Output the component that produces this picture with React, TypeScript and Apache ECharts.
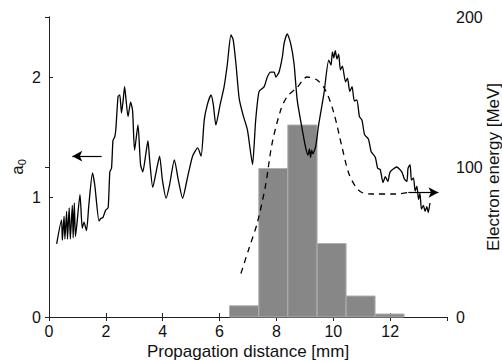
import React, { useEffect, useRef } from "react";
import * as echarts from "echarts";

// a0 (left axis) vs propagation distance [mm]
const a0X = [
  0.27, 0.44, 0.47, 0.53, 0.56, 0.62, 0.65, 0.71, 0.75, 0.82, 0.85, 0.89, 0.93, 0.98,
  1.09, 1.17, 1.23, 1.32, 1.40, 1.53, 1.61, 1.76, 1.82, 1.90, 1.99, 2.08, 2.14, 2.20,
  2.25, 2.31, 2.35, 2.43, 2.49, 2.55, 2.61, 2.66, 2.71, 2.78, 2.87, 2.94, 3.01, 3.13,
  3.22, 3.30, 3.40, 3.48, 3.54, 3.65, 3.77, 3.89, 3.99, 4.12, 4.24, 4.41, 4.55, 4.70,
  4.87, 5.05, 5.23, 5.35, 5.46, 5.57, 5.70, 5.78, 5.87, 6.02, 6.16, 6.27, 6.40, 6.48,
  6.58, 6.69, 6.83, 6.98, 7.08, 7.16, 7.27, 7.39, 7.57, 7.68, 7.80, 7.92, 7.98, 8.09,
  8.21, 8.27, 8.38, 8.50, 8.62, 8.73, 8.91, 9.03, 9.11, 9.16, 9.20, 9.24, 9.28, 9.38,
  9.49, 9.67, 9.84, 9.92, 9.97, 10.02, 10.07, 10.13, 10.19, 10.25, 10.32, 10.43, 10.50,
  10.58, 10.66, 10.74, 10.83, 10.92, 11.01, 11.10, 11.24, 11.33, 11.48, 11.56, 11.65,
  11.75, 11.83, 11.92, 12.00, 12.23, 12.41, 12.50, 12.59, 12.63, 12.70, 12.75, 12.82,
  12.88, 12.94, 13.00, 13.05, 13.10, 13.17, 13.23, 13.29, 13.34, 13.40,
];
const a0Y = [
  0.61, 0.81, 0.64, 0.84, 0.65, 0.88, 0.65, 0.91, 0.65, 0.93, 0.66, 0.95, 0.67, 0.77,
  1.02, 0.74, 0.79, 0.72, 0.93, 1.20, 1.10, 0.80, 0.82, 0.83, 0.89, 0.91, 1.21, 1.24,
  1.47, 1.50, 1.56, 1.84, 1.85, 1.70, 1.81, 1.92, 1.81, 1.67, 1.79, 1.72, 1.39, 1.60,
  1.27, 1.21, 1.35, 1.47, 1.31, 1.08, 1.21, 1.34, 1.14, 0.99, 1.10, 1.31, 1.14, 0.99,
  1.16, 1.34, 1.41, 1.34, 1.64, 1.77, 1.85, 1.77, 1.60, 1.77, 1.92, 2.10, 2.35, 2.31,
  2.10, 1.82, 1.68, 1.56, 1.39, 1.27, 1.64, 1.88, 1.92, 2.00, 2.04, 2.04, 2.00, 2.04,
  2.17, 2.28, 2.36, 2.28, 2.11, 1.81, 1.56, 1.41, 1.35, 1.40, 1.33, 1.39, 1.36, 1.42,
  1.61, 1.86, 2.14, 2.10, 2.21, 2.16, 2.22, 2.15, 2.19, 2.06, 2.09, 1.96, 1.99,
  1.88, 1.92, 1.80, 1.81, 1.67, 1.64, 1.52, 1.48, 1.38, 1.33, 1.24, 1.23,
  1.12, 1.17, 1.13, 1.21, 1.25, 1.21, 1.15, 1.13, 1.24, 1.27, 1.14, 1.16,
  1.05, 1.09, 0.98, 1.03, 0.90, 0.93, 0.88, 0.92, 0.87, 0.95,
];

// Electron energy [MeV] (right axis), dashed
const energyX = [6.75, 7.04, 7.33, 7.62, 7.84, 8.15, 8.38, 8.73, 9.08, 9.43, 9.73, 10.02, 10.31, 10.54, 10.78, 11.01, 11.36, 12.18, 12.64];
const energyY = [29, 46, 63, 88, 115, 138, 147, 153, 160, 158, 151, 136, 113, 96, 87, 83, 82, 82, 83];

// Histogram bins (right axis units)
const binEdges = [6.35, 7.38, 8.40, 9.43, 10.45, 11.47, 12.49];
const binValues = [7.5, 99, 128, 49, 14, 2];

// Axis ranges / ticks
const xMin = 0, xMax = 14, xStep = 2;
const leftMin = 0, leftMax = 2.5, leftStep = 1;
const rightMin = 0, rightMax = 200, rightStep = 100;

// Arrows
const leftArrow = { from: [1.85, 1.34], to: [0.82, 1.34] };
const rightArrow = { from: [12.64, 83], to: [13.7, 83] };

const FONT = "'Liberation Sans', Arial, Helvetica, sans-serif";
const AX = "#222";

export default function App() {
  const ref = useRef<HTMLDivElement>(null);
  useEffect(() => {
    if (!ref.current) return;
    const chart = echarts.init(ref.current, undefined, { renderer: "svg" });
    const lineData = a0X.map((x, i) => [x, a0Y[i]]);
    const energyData = energyX.map((x, i) => [x, energyY[i]]);
    const binData = binValues.map((v, i) => [binEdges[i], binEdges[i + 1], v]);
    const axisLabel = { color: "#111", fontSize: 16, fontFamily: FONT };
    chart.setOption({
      animation: false,
      textStyle: { fontFamily: FONT },
      grid: { left: 49, right: 55, top: 17, bottom: 44, containLabel: false, outerBoundsMode: "none" },
      xAxis: [
        {
          type: "value", min: xMin, max: xMax, interval: xStep,
          name: "Propagation distance [mm]", nameLocation: "middle", nameGap: 26,
          nameMoveOverlap: false,
          nameTextStyle: { fontSize: 17, color: "#111", fontFamily: FONT },
          axisLine: { show: true, lineStyle: { color: AX, width: 1 } },
          axisTick: { inside: true, length: 4, lineStyle: { color: AX } },
          axisLabel: { ...axisLabel, margin: 6, showMaxLabel: false },
          splitLine: { show: false },
        },
        {
          type: "value", position: "top", min: xMin, max: xMax, interval: xStep,
          axisLine: { show: true, lineStyle: { color: AX, width: 1 } },
          axisTick: { inside: true, length: 4, lineStyle: { color: AX } },
          axisLabel: { show: false },
          splitLine: { show: false },
        },
      ],
      yAxis: [
        {
          type: "value", min: leftMin, max: leftMax, interval: leftStep,
          name: "{a|a}{s|0}", nameLocation: "middle", nameGap: 22, nameRotate: 90,
          nameMoveOverlap: false,
          nameTextStyle: {
            color: "#111", fontFamily: FONT,
            rich: {
              a: { fontSize: 17, color: "#111", fontFamily: FONT },
              s: { fontSize: 11, color: "#111", fontFamily: FONT, padding: [8, 0, 0, 0] },
            },
          },
          axisLine: { show: true, lineStyle: { color: AX, width: 1 } },
          axisTick: { inside: true, length: 4, lineStyle: { color: AX } },
          axisLabel: { ...axisLabel, margin: 8, showMaxLabel: false },
          splitLine: { show: false },
        },
        {
          type: "value", position: "right", min: rightMin, max: rightMax, interval: rightStep,
          name: "Electron energy [MeV]", nameLocation: "middle", nameGap: 38, nameRotate: 90,
          nameMoveOverlap: false,
          nameTextStyle: { fontSize: 17, color: "#111", fontFamily: FONT },
          axisLine: { show: true, lineStyle: { color: AX, width: 1 } },
          axisTick: { inside: true, length: 4, lineStyle: { color: AX } },
          axisLabel: { ...axisLabel, margin: 9 },
          splitLine: { show: false },
        },
      ],
      series: [
        {
          type: "custom",
          xAxisIndex: 0, yAxisIndex: 1, z: 1,
          encode: { x: [0, 1], y: 2 },
          data: binData,
          renderItem: (params: any, api: any) => {
            const p0 = api.coord([api.value(0), 0]);
            const p1 = api.coord([api.value(1), api.value(2)]);
            return {
              type: "rect",
              shape: { x: p0[0], y: p1[1], width: p1[0] - p0[0], height: p0[1] - p1[1] },
              style: { fill: "#878787", stroke: "#b0b0b0", lineWidth: 1 },
            };
          },
          silent: true,
        },
        {
          type: "line",
          xAxisIndex: 0, yAxisIndex: 0, z: 3,
          data: lineData,
          showSymbol: false,
          smooth: 0.2,
          lineStyle: { color: "#000", width: 1.3 },
          silent: true,
          markLine: {
            silent: true,
            symbol: ["none", "arrow"],
            symbolSize: [8, 10],
            label: { show: false },
            lineStyle: { color: "#000", width: 1.2, type: "solid" },
            data: [[{ coord: leftArrow.from }, { coord: leftArrow.to }]],
          },
        },
        {
          type: "line",
          xAxisIndex: 0, yAxisIndex: 1, z: 3,
          data: energyData,
          showSymbol: false,
          smooth: 0.3,
          lineStyle: { color: "#000", width: 1.3, type: [6, 5] },
          silent: true,
          markLine: {
            silent: true,
            symbol: ["none", "arrow"],
            symbolSize: [8, 10],
            label: { show: false },
            lineStyle: { color: "#000", width: 1.2, type: "solid" },
            data: [[{ coord: rightArrow.from }, { coord: rightArrow.to }]],
          },
        },
      ],
    });
    return () => chart.dispose();
  }, []);
  return <div ref={ref} style={{ position: "absolute", left: 0, top: 0, width: 502, height: 361 }} />;
}
